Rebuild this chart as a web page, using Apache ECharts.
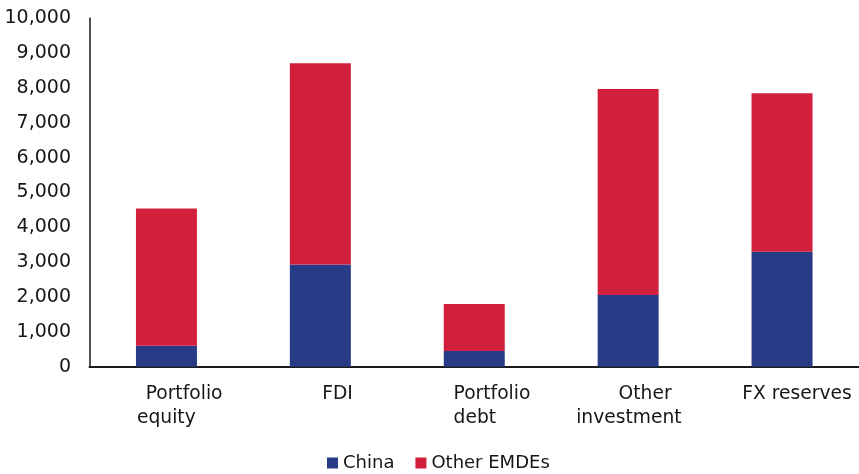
<!DOCTYPE html>
<html>
<head>
<meta charset="utf-8">
<script src="https://cdn.jsdelivr.net/npm/echarts@6/dist/echarts.min.js"></script>
<style>
  html, body { margin: 0; padding: 0; background: #fff; }
  #chart { width: 859px; height: 474px; }
</style>
</head>
<body>
<div id="chart"></div>
<script>
// Categories of external assets (two-line labels)
const categories = ['Portfolio\nequity', 'FDI', 'Portfolio\ndebt', 'Other\ninvestment', 'FX reserves'];
// Stacked values, USD billions
const chinaValues = [600, 2930, 450, 2060, 3300];
const otherEmdeValues = [3940, 5780, 1350, 5910, 4550];
const seriesNames = ['China', 'Other EMDEs'];
const yTicks = { min: 0, max: 10000, interval: 1000 };

// Label layout: horizontal shift of each label block and indent of its first line
const labelShift = [-29.5, 1.8, -20.7, -52, -39.7];
const firstLineIndent = [8.7, 0, 0, 42.4, 0];

const FONT = '"DejaVu Sans", sans-serif';
const TEXT = '#161616';
const XFS = 18.7;

const axisData = categories.map((name, i) => ({
  value: name,
  textStyle: {
    align: 'left',
    padding: [0, 0, 0, labelShift[i]]
  }
}));

const chart = echarts.init(document.getElementById('chart'), null, { renderer: 'canvas' });
chart.setOption({
  animation: false,
  backgroundColor: '#ffffff',
  grid: { left: 89.5, right: -3, top: 18.3, bottom: 107.3, containLabel: false },
  legend: {
    data: seriesNames,
    left: 327,
    top: 454,
    padding: 0,
    icon: 'rect',
    itemWidth: 11,
    itemHeight: 11,
    itemGap: 21,
    textStyle: { fontFamily: FONT, fontSize: 18, color: TEXT }
  },
  xAxis: {
    type: 'category',
    data: axisData,
    axisLine: { lineStyle: { color: '#1a1a1a', width: 2 } },
    axisTick: { show: false },
    axisLabel: {
      interval: 0,
      margin: 15.5,
      fontFamily: FONT,
      fontSize: XFS,
      lineHeight: 24,
      color: TEXT,
      formatter: function (value, idx) {
        const lines = value.split('\n');
        return lines.map((ln, j) => (j === 0 && firstLineIndent[idx] ? '{ind' + idx + '|' + ln + '}' : '{n|' + ln + '}')).join('\n');
      },
      rich: (function () {
        const r = { n: { fontFamily: FONT, fontSize: XFS, lineHeight: 24, color: TEXT } };
        firstLineIndent.forEach((v, i) => {
          r['ind' + i] = { fontFamily: FONT, fontSize: XFS, lineHeight: 24, color: TEXT, padding: [0, 0, 0, v] };
        });
        return r;
      })()
    }
  },
  yAxis: {
    type: 'value',
    min: yTicks.min,
    max: yTicks.max,
    interval: yTicks.interval,
    axisLine: { show: true, lineStyle: { color: '#1a1a1a', width: 1.5 } },
    axisTick: { show: false },
    splitLine: { show: false },
    axisLabel: {
      margin: 18.5,
      fontFamily: FONT,
      fontSize: 19,
      color: TEXT,
      formatter: v => v.toLocaleString('en-US')
    }
  },
  series: [
    {
      name: seriesNames[0],
      type: 'bar',
      stack: 'total',
      barWidth: 61,
      data: chinaValues,
      itemStyle: { color: '#283B86' }
    },
    {
      name: seriesNames[1],
      type: 'bar',
      stack: 'total',
      barWidth: 61,
      data: otherEmdeValues,
      itemStyle: { color: '#D21F3B' }
    }
  ]
});
</script>
</body>
</html>
